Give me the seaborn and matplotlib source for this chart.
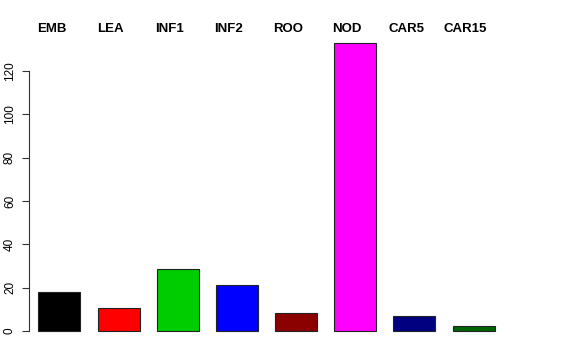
import matplotlib
matplotlib.use("Agg")
import matplotlib.pyplot as plt
import matplotlib.transforms as mtransforms
import seaborn as sns
import pandas as pd

categories = ["EMB", "LEA", "INF1", "INF2", "ROO", "NOD", "CAR5", "CAR15"]
values = [18.1, 10.8, 28.6, 21.2, 8.5, 133.0, 6.8, 2.2]
colors = ["#000000", "#FF0000", "#00CD00", "#0000FF", "#8B0000", "#FF00FF", "#000080", "#006400"]
yticks = [0, 20, 40, 60, 80, 100, 120]

sns.set_style("white")
plt.rcParams["font.family"] = ["Liberation Sans", "DejaVu Sans"]
plt.rcParams["text.color"] = "black"
plt.rcParams["ytick.color"] = "black"
plt.rcParams["ytick.labelcolor"] = "black"

df = pd.DataFrame({"cat": categories, "val": values})

fig = plt.figure(figsize=(5.76, 3.6), dpi=100)
W, H = 576, 360
left_px, right_px = 29, 547
top_px, bot_px = 31.3, 342.5
ax = fig.add_axes([left_px / W, (H - bot_px) / H, (right_px - left_px) / W, (bot_px - top_px) / H])

sns.barplot(data=df, x="cat", y="val", hue="cat", palette=colors, legend=False,
            width=0.71, edgecolor="#222222", linewidth=0.8, saturation=1, ax=ax)

ax.set_xlim(-0.514, 8.24)
ax.set_ylim(-5.32, 138.3)
ax.set_xlabel("")
ax.set_ylabel("")
ax.set_xticks([])
ax.set_yticks(yticks)
ax.set_yticklabels([str(t) for t in yticks], rotation=90, va="center", fontsize=8.5)
ax.tick_params(axis="y", length=5.4, width=0.8, color="#333333", pad=4, left=True)
for s in ["top", "right", "bottom"]:
    ax.spines[s].set_visible(False)
ax.spines["left"].set_bounds(0, 120)
ax.spines["left"].set_color("#333333")
ax.spines["left"].set_linewidth(0.8)
ax.patch.set_alpha(0)

trans = mtransforms.blended_transform_factory(ax.transData, fig.transFigure)
for i, c in enumerate(categories):
    ax.text(i - 0.135, 1 - 29 / H, c, transform=trans, ha="center", va="center",
            fontsize=9.5, fontweight="bold", clip_on=False)

fig.savefig("out.png", dpi=100)
